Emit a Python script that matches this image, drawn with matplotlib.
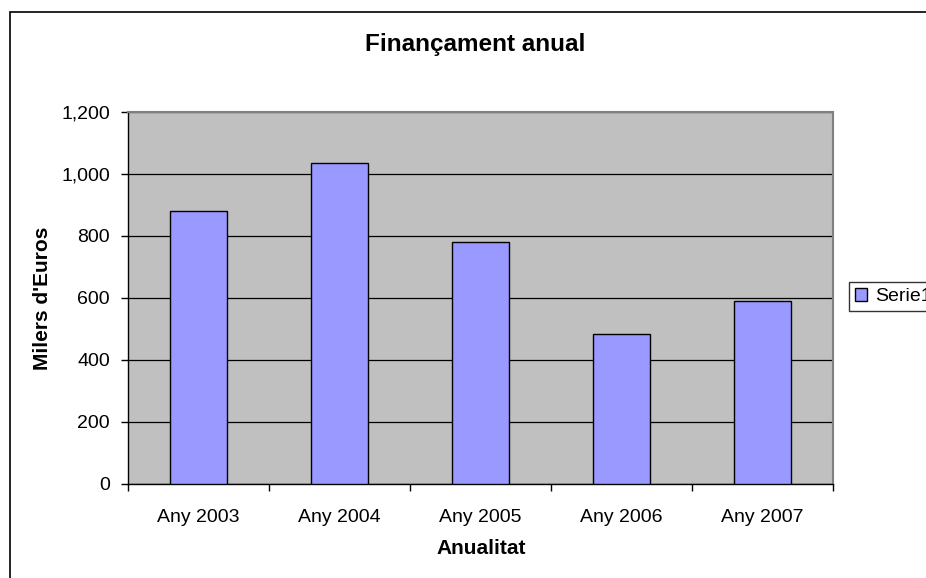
import matplotlib
matplotlib.use("Agg")
import matplotlib.pyplot as plt
import numpy as np
from matplotlib.patches import Rectangle

plt.rcParams["font.family"] = ["Liberation Sans", "DejaVu Sans"]

years = ["Any 2003", "Any 2004", "Any 2005", "Any 2006", "Any 2007"]
values = [880, 1035, 780, 485, 590]
yticks = [0, 200, 400, 600, 800, 1000, 1200]
series_name = "Serie1"

W, H = 926, 578
fig = plt.figure(figsize=(W / 100, H / 100), dpi=100)

def fx(px):
    return px / W

def fy(py):
    return 1 - py / H

# chart area border (runs off the right and bottom edges)
fig.patches.append(Rectangle((fx(10), fy(H + 20)), fx(W + 20 - 10), fy(12) - fy(H + 20),
                             transform=fig.transFigure, fill=False, ec="black", lw=1.2))

left, right, top, bottom = 128, 833, 112, 484
ax = fig.add_axes([fx(left), fy(bottom), fx(right - left), fy(top) - fy(bottom)])
ax.set_facecolor("#C0C0C0")

x = np.arange(len(years))
ax.bar(x, values, width=0.4, color="#9999FF", edgecolor="black", lw=1.0,
       label=series_name, zorder=3)
ax.set_xlim(-0.5, len(years) - 0.5)
ax.set_ylim(0, 1200)
ax.set_yticks(yticks)
ax.set_yticklabels([f"{v:,}" for v in yticks])
ax.set_xticks(x)
ax.set_xticklabels(years)
ax.set_xticks(np.arange(len(years) + 1) - 0.5, minor=True)
ax.tick_params(axis="x", which="major", length=0, pad=18, labelsize=14)
ax.tick_params(axis="x", which="minor", length=5, direction="out", width=1)
ax.tick_params(axis="y", length=5, direction="out", width=1, pad=8, labelsize=14)
ax.grid(axis="y", color="black", lw=0.9, zorder=1)
ax.set_axisbelow(True)
for s in ("top", "right"):
    ax.spines[s].set_color("#808080")
    ax.spines[s].set_linewidth(1.5)
for s in ("left", "bottom"):
    ax.spines[s].set_color("black")
    ax.spines[s].set_linewidth(1.0)

fig.text(fx(475), fy(44), "Finançament anual", ha="center", va="center",
         fontsize=17.5, fontweight="bold")
fig.text(fx(481), fy(548), "Anualitat", ha="center", va="center",
         fontsize=15, fontweight="bold")
fig.text(fx(43), fy(298), "Milers d'Euros", ha="center", va="center",
         rotation=90, fontsize=15, fontweight="bold")

leg = fig.legend(loc="upper left", bbox_to_anchor=(fx(849), fy(282)),
                 fontsize=14, frameon=True, fancybox=False, shadow=False,
                 handlelength=0.65, handleheight=0.65, handletextpad=0.4,
                 borderpad=0.3, borderaxespad=0)
leg.get_frame().set_edgecolor("black")
leg.get_frame().set_linewidth(1.0)

fig.savefig("out.png", dpi=100)
